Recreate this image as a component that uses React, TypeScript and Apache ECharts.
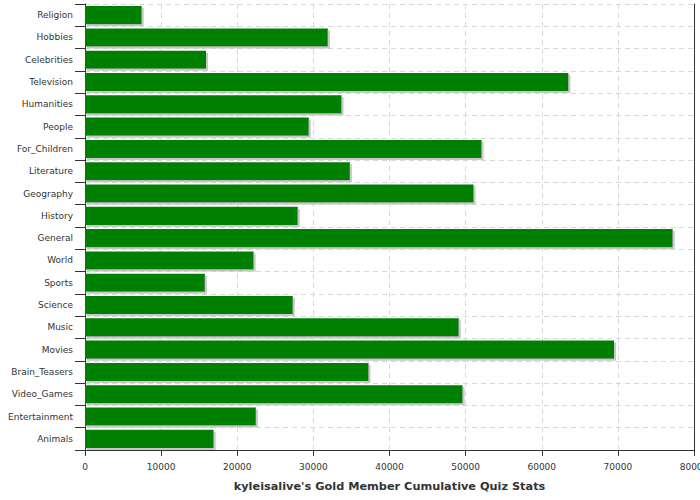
import React, { useEffect, useRef } from "react";
import * as echarts from "echarts";

const categories = [
  "Religion", "Hobbies", "Celebrities", "Television", "Humanities", "People",
  "For_Children", "Literature", "Geography", "History", "General", "World",
  "Sports", "Science", "Music", "Movies", "Brain_Teasers", "Video_Games",
  "Entertainment", "Animals",
];
const values = [
  7450, 31900, 15900, 63500, 33700, 29400,
  52100, 34800, 51050, 27950, 77200, 22150,
  15750, 27300, 49100, 69500, 37250, 49600,
  22450, 16900,
];
const xTicks = { min: 0, max: 80000, interval: 10000 };
const axisTitle = "kyleisalive's Gold Member Cumulative Quiz Stats";

export default function App() {
  const ref = useRef<HTMLDivElement>(null);
  useEffect(() => {
    document.body.style.margin = "0";
    if (!ref.current) return;
    const chart = echarts.init(ref.current, null, { renderer: "svg" });
    const font = "DejaVu Sans";
    const gridLine = { show: true, lineStyle: { color: "#d3dadf", type: [5, 4] as any, width: 1 } };
    chart.setOption({
      animation: false,
      textStyle: { fontFamily: font },
      grid: { left: 85, right: 6, top: 4, bottom: 50, containLabel: false, outerBoundsMode: "none" },
      xAxis: {
        type: "value",
        min: xTicks.min,
        max: xTicks.max,
        interval: xTicks.interval,
        name: axisTitle,
        nameLocation: "middle",
        nameGap: 31,
        nameTextStyle: { fontFamily: font, fontSize: 11.3, fontWeight: "bold", color: "#333" },
        axisLine: { show: true, lineStyle: { color: "#333", width: 1 } },
        axisTick: { show: true, length: 6, lineStyle: { color: "#333" } },
        axisLabel: {
          fontFamily: font, fontSize: 9, color: "#333", margin: 12,
          formatter: (v: number) => String(v),
        },
        splitLine: gridLine,
      },
      yAxis: [
        {
          type: "category",
          data: categories,
          inverse: true,
          axisLine: { show: true, lineStyle: { color: "#333", width: 1 } },
          axisTick: { show: true, length: 10, lineStyle: { color: "#333" } },
          axisLabel: { fontFamily: font, fontSize: 9, color: "#333", margin: 12 },
          splitLine: gridLine,
        },
        {
          type: "category",
          data: categories,
          inverse: true,
          position: "right",
          axisLine: { show: true, lineStyle: { color: "#333", width: 1 } },
          axisTick: { show: false },
          axisLabel: { show: false },
          splitLine: { show: false },
        },
      ],
      series: [
        {
          type: "bar",
          data: values,
          yAxisIndex: 0,
          barCategoryGap: "19%",
          itemStyle: {
            color: "#008000",
            shadowColor: "#c8c8c8",
            shadowOffsetX: 2,
            shadowOffsetY: 2,
            shadowBlur: 0,
          },
        },
      ],
    });
    return () => chart.dispose();
  }, []);
  return <div ref={ref} style={{ width: 700, height: 500 }} />;
}
